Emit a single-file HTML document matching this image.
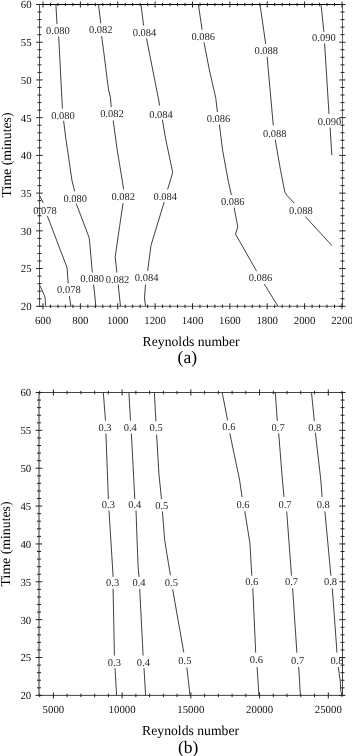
<!DOCTYPE html>
<html><head><meta charset="utf-8"><title>Contour plots</title>
<style>svg text{text-rendering:geometricPrecision;font-family:"Liberation Serif",serif}html,body{margin:0;padding:0;background:#fff;width:352px;height:756px;overflow:hidden}svg{display:block;will-change:transform}</style>
</head><body>
<svg width="352" height="756" viewBox="0 0 352 756">
<rect width="352" height="756" fill="#fff"/>
<g stroke="#222" stroke-width="1" fill="none">
<line x1="39.0" y1="4.5" x2="343.0" y2="4.5" stroke="#000"/>
<line x1="342.5" y1="4.5" x2="342.5" y2="306.3" stroke="#666"/>
<line x1="39.0" y1="306.3" x2="343.0" y2="306.3" stroke="#606060"/>
<line x1="39.5" y1="4.5" x2="39.5" y2="306.3" stroke="#5a5a5a"/>
<line x1="36.10" y1="306.30" x2="42.70" y2="306.30"/>
<line x1="339.30" y1="306.30" x2="345.50" y2="306.30"/>
<line x1="37.50" y1="298.75" x2="41.50" y2="298.75"/>
<line x1="340.50" y1="298.75" x2="344.50" y2="298.75"/>
<line x1="37.50" y1="291.21" x2="41.50" y2="291.21"/>
<line x1="340.50" y1="291.21" x2="344.50" y2="291.21"/>
<line x1="37.50" y1="283.67" x2="41.50" y2="283.67"/>
<line x1="340.50" y1="283.67" x2="344.50" y2="283.67"/>
<line x1="37.50" y1="276.12" x2="41.50" y2="276.12"/>
<line x1="340.50" y1="276.12" x2="344.50" y2="276.12"/>
<line x1="36.10" y1="268.57" x2="42.70" y2="268.57"/>
<line x1="339.30" y1="268.57" x2="345.50" y2="268.57"/>
<line x1="37.50" y1="261.03" x2="41.50" y2="261.03"/>
<line x1="340.50" y1="261.03" x2="344.50" y2="261.03"/>
<line x1="37.50" y1="253.48" x2="41.50" y2="253.48"/>
<line x1="340.50" y1="253.48" x2="344.50" y2="253.48"/>
<line x1="37.50" y1="245.94" x2="41.50" y2="245.94"/>
<line x1="340.50" y1="245.94" x2="344.50" y2="245.94"/>
<line x1="37.50" y1="238.40" x2="41.50" y2="238.40"/>
<line x1="340.50" y1="238.40" x2="344.50" y2="238.40"/>
<line x1="36.10" y1="230.85" x2="42.70" y2="230.85"/>
<line x1="339.30" y1="230.85" x2="345.50" y2="230.85"/>
<line x1="37.50" y1="223.31" x2="41.50" y2="223.31"/>
<line x1="340.50" y1="223.31" x2="344.50" y2="223.31"/>
<line x1="37.50" y1="215.76" x2="41.50" y2="215.76"/>
<line x1="340.50" y1="215.76" x2="344.50" y2="215.76"/>
<line x1="37.50" y1="208.22" x2="41.50" y2="208.22"/>
<line x1="340.50" y1="208.22" x2="344.50" y2="208.22"/>
<line x1="37.50" y1="200.67" x2="41.50" y2="200.67"/>
<line x1="340.50" y1="200.67" x2="344.50" y2="200.67"/>
<line x1="36.10" y1="193.12" x2="42.70" y2="193.12"/>
<line x1="339.30" y1="193.12" x2="345.50" y2="193.12"/>
<line x1="37.50" y1="185.58" x2="41.50" y2="185.58"/>
<line x1="340.50" y1="185.58" x2="344.50" y2="185.58"/>
<line x1="37.50" y1="178.04" x2="41.50" y2="178.04"/>
<line x1="340.50" y1="178.04" x2="344.50" y2="178.04"/>
<line x1="37.50" y1="170.49" x2="41.50" y2="170.49"/>
<line x1="340.50" y1="170.49" x2="344.50" y2="170.49"/>
<line x1="37.50" y1="162.94" x2="41.50" y2="162.94"/>
<line x1="340.50" y1="162.94" x2="344.50" y2="162.94"/>
<line x1="36.10" y1="155.40" x2="42.70" y2="155.40"/>
<line x1="339.30" y1="155.40" x2="345.50" y2="155.40"/>
<line x1="37.50" y1="147.85" x2="41.50" y2="147.85"/>
<line x1="340.50" y1="147.85" x2="344.50" y2="147.85"/>
<line x1="37.50" y1="140.31" x2="41.50" y2="140.31"/>
<line x1="340.50" y1="140.31" x2="344.50" y2="140.31"/>
<line x1="37.50" y1="132.77" x2="41.50" y2="132.77"/>
<line x1="340.50" y1="132.77" x2="344.50" y2="132.77"/>
<line x1="37.50" y1="125.22" x2="41.50" y2="125.22"/>
<line x1="340.50" y1="125.22" x2="344.50" y2="125.22"/>
<line x1="36.10" y1="117.67" x2="42.70" y2="117.67"/>
<line x1="339.30" y1="117.67" x2="345.50" y2="117.67"/>
<line x1="37.50" y1="110.13" x2="41.50" y2="110.13"/>
<line x1="340.50" y1="110.13" x2="344.50" y2="110.13"/>
<line x1="37.50" y1="102.59" x2="41.50" y2="102.59"/>
<line x1="340.50" y1="102.59" x2="344.50" y2="102.59"/>
<line x1="37.50" y1="95.04" x2="41.50" y2="95.04"/>
<line x1="340.50" y1="95.04" x2="344.50" y2="95.04"/>
<line x1="37.50" y1="87.50" x2="41.50" y2="87.50"/>
<line x1="340.50" y1="87.50" x2="344.50" y2="87.50"/>
<line x1="36.10" y1="79.95" x2="42.70" y2="79.95"/>
<line x1="339.30" y1="79.95" x2="345.50" y2="79.95"/>
<line x1="37.50" y1="72.41" x2="41.50" y2="72.41"/>
<line x1="340.50" y1="72.41" x2="344.50" y2="72.41"/>
<line x1="37.50" y1="64.86" x2="41.50" y2="64.86"/>
<line x1="340.50" y1="64.86" x2="344.50" y2="64.86"/>
<line x1="37.50" y1="57.31" x2="41.50" y2="57.31"/>
<line x1="340.50" y1="57.31" x2="344.50" y2="57.31"/>
<line x1="37.50" y1="49.77" x2="41.50" y2="49.77"/>
<line x1="340.50" y1="49.77" x2="344.50" y2="49.77"/>
<line x1="36.10" y1="42.23" x2="42.70" y2="42.23"/>
<line x1="339.30" y1="42.23" x2="345.50" y2="42.23"/>
<line x1="37.50" y1="34.68" x2="41.50" y2="34.68"/>
<line x1="340.50" y1="34.68" x2="344.50" y2="34.68"/>
<line x1="37.50" y1="27.14" x2="41.50" y2="27.14"/>
<line x1="340.50" y1="27.14" x2="344.50" y2="27.14"/>
<line x1="37.50" y1="19.59" x2="41.50" y2="19.59"/>
<line x1="340.50" y1="19.59" x2="344.50" y2="19.59"/>
<line x1="37.50" y1="12.04" x2="41.50" y2="12.04"/>
<line x1="340.50" y1="12.04" x2="344.50" y2="12.04"/>
<line x1="36.10" y1="4.50" x2="42.70" y2="4.50"/>
<line x1="339.30" y1="4.50" x2="345.50" y2="4.50"/>
<line x1="50.47" y1="2.80" x2="50.47" y2="6.20"/>
<line x1="50.47" y1="304.60" x2="50.47" y2="308.00"/>
<line x1="57.95" y1="2.80" x2="57.95" y2="6.20"/>
<line x1="57.95" y1="304.60" x2="57.95" y2="308.00"/>
<line x1="65.42" y1="2.80" x2="65.42" y2="6.20"/>
<line x1="65.42" y1="304.60" x2="65.42" y2="308.00"/>
<line x1="72.90" y1="2.80" x2="72.90" y2="6.20"/>
<line x1="72.90" y1="304.60" x2="72.90" y2="308.00"/>
<line x1="87.85" y1="2.80" x2="87.85" y2="6.20"/>
<line x1="87.85" y1="304.60" x2="87.85" y2="308.00"/>
<line x1="95.32" y1="2.80" x2="95.32" y2="6.20"/>
<line x1="95.32" y1="304.60" x2="95.32" y2="308.00"/>
<line x1="102.80" y1="2.80" x2="102.80" y2="6.20"/>
<line x1="102.80" y1="304.60" x2="102.80" y2="308.00"/>
<line x1="110.27" y1="2.80" x2="110.27" y2="6.20"/>
<line x1="110.27" y1="304.60" x2="110.27" y2="308.00"/>
<line x1="125.22" y1="2.80" x2="125.22" y2="6.20"/>
<line x1="125.22" y1="304.60" x2="125.22" y2="308.00"/>
<line x1="132.69" y1="2.80" x2="132.69" y2="6.20"/>
<line x1="132.69" y1="304.60" x2="132.69" y2="308.00"/>
<line x1="140.17" y1="2.80" x2="140.17" y2="6.20"/>
<line x1="140.17" y1="304.60" x2="140.17" y2="308.00"/>
<line x1="147.64" y1="2.80" x2="147.64" y2="6.20"/>
<line x1="147.64" y1="304.60" x2="147.64" y2="308.00"/>
<line x1="162.59" y1="2.80" x2="162.59" y2="6.20"/>
<line x1="162.59" y1="304.60" x2="162.59" y2="308.00"/>
<line x1="170.06" y1="2.80" x2="170.06" y2="6.20"/>
<line x1="170.06" y1="304.60" x2="170.06" y2="308.00"/>
<line x1="177.54" y1="2.80" x2="177.54" y2="6.20"/>
<line x1="177.54" y1="304.60" x2="177.54" y2="308.00"/>
<line x1="185.01" y1="2.80" x2="185.01" y2="6.20"/>
<line x1="185.01" y1="304.60" x2="185.01" y2="308.00"/>
<line x1="199.96" y1="2.80" x2="199.96" y2="6.20"/>
<line x1="199.96" y1="304.60" x2="199.96" y2="308.00"/>
<line x1="207.44" y1="2.80" x2="207.44" y2="6.20"/>
<line x1="207.44" y1="304.60" x2="207.44" y2="308.00"/>
<line x1="214.91" y1="2.80" x2="214.91" y2="6.20"/>
<line x1="214.91" y1="304.60" x2="214.91" y2="308.00"/>
<line x1="222.39" y1="2.80" x2="222.39" y2="6.20"/>
<line x1="222.39" y1="304.60" x2="222.39" y2="308.00"/>
<line x1="237.33" y1="2.80" x2="237.33" y2="6.20"/>
<line x1="237.33" y1="304.60" x2="237.33" y2="308.00"/>
<line x1="244.81" y1="2.80" x2="244.81" y2="6.20"/>
<line x1="244.81" y1="304.60" x2="244.81" y2="308.00"/>
<line x1="252.28" y1="2.80" x2="252.28" y2="6.20"/>
<line x1="252.28" y1="304.60" x2="252.28" y2="308.00"/>
<line x1="259.76" y1="2.80" x2="259.76" y2="6.20"/>
<line x1="259.76" y1="304.60" x2="259.76" y2="308.00"/>
<line x1="274.71" y1="2.80" x2="274.71" y2="6.20"/>
<line x1="274.71" y1="304.60" x2="274.71" y2="308.00"/>
<line x1="282.18" y1="2.80" x2="282.18" y2="6.20"/>
<line x1="282.18" y1="304.60" x2="282.18" y2="308.00"/>
<line x1="289.66" y1="2.80" x2="289.66" y2="6.20"/>
<line x1="289.66" y1="304.60" x2="289.66" y2="308.00"/>
<line x1="297.13" y1="2.80" x2="297.13" y2="6.20"/>
<line x1="297.13" y1="304.60" x2="297.13" y2="308.00"/>
<line x1="312.08" y1="2.80" x2="312.08" y2="6.20"/>
<line x1="312.08" y1="304.60" x2="312.08" y2="308.00"/>
<line x1="319.55" y1="2.80" x2="319.55" y2="6.20"/>
<line x1="319.55" y1="304.60" x2="319.55" y2="308.00"/>
<line x1="327.03" y1="2.80" x2="327.03" y2="6.20"/>
<line x1="327.03" y1="304.60" x2="327.03" y2="308.00"/>
<line x1="334.50" y1="2.80" x2="334.50" y2="6.20"/>
<line x1="334.50" y1="304.60" x2="334.50" y2="308.00"/>
<line x1="43.00" y1="1.50" x2="43.00" y2="7.50"/>
<line x1="43.00" y1="303.30" x2="43.00" y2="309.30"/>
<line x1="80.37" y1="1.50" x2="80.37" y2="7.50"/>
<line x1="80.37" y1="303.30" x2="80.37" y2="309.30"/>
<line x1="117.74" y1="1.50" x2="117.74" y2="7.50"/>
<line x1="117.74" y1="303.30" x2="117.74" y2="309.30"/>
<line x1="155.12" y1="1.50" x2="155.12" y2="7.50"/>
<line x1="155.12" y1="303.30" x2="155.12" y2="309.30"/>
<line x1="192.49" y1="1.50" x2="192.49" y2="7.50"/>
<line x1="192.49" y1="303.30" x2="192.49" y2="309.30"/>
<line x1="229.86" y1="1.50" x2="229.86" y2="7.50"/>
<line x1="229.86" y1="303.30" x2="229.86" y2="309.30"/>
<line x1="267.23" y1="1.50" x2="267.23" y2="7.50"/>
<line x1="267.23" y1="303.30" x2="267.23" y2="309.30"/>
<line x1="304.60" y1="1.50" x2="304.60" y2="7.50"/>
<line x1="304.60" y1="303.30" x2="304.60" y2="309.30"/>
<line x1="341.98" y1="1.50" x2="341.98" y2="7.50"/>
<line x1="341.98" y1="303.30" x2="341.98" y2="309.30"/>
<line x1="38.5" y1="392.5" x2="343.0" y2="392.5" stroke="#444"/>
<line x1="342.5" y1="392.5" x2="342.5" y2="695.4" stroke="#444"/>
<line x1="38.5" y1="695.4" x2="343.0" y2="695.4" stroke="#444"/>
<line x1="39.0" y1="392.5" x2="39.0" y2="695.4" stroke="#333"/>
<line x1="35.60" y1="695.40" x2="42.20" y2="695.40"/>
<line x1="339.30" y1="695.40" x2="345.50" y2="695.40"/>
<line x1="37.00" y1="687.83" x2="41.00" y2="687.83"/>
<line x1="340.50" y1="687.83" x2="344.50" y2="687.83"/>
<line x1="37.00" y1="680.25" x2="41.00" y2="680.25"/>
<line x1="340.50" y1="680.25" x2="344.50" y2="680.25"/>
<line x1="37.00" y1="672.68" x2="41.00" y2="672.68"/>
<line x1="340.50" y1="672.68" x2="344.50" y2="672.68"/>
<line x1="37.00" y1="665.11" x2="41.00" y2="665.11"/>
<line x1="340.50" y1="665.11" x2="344.50" y2="665.11"/>
<line x1="35.60" y1="657.54" x2="42.20" y2="657.54"/>
<line x1="339.30" y1="657.54" x2="345.50" y2="657.54"/>
<line x1="37.00" y1="649.96" x2="41.00" y2="649.96"/>
<line x1="340.50" y1="649.96" x2="344.50" y2="649.96"/>
<line x1="37.00" y1="642.39" x2="41.00" y2="642.39"/>
<line x1="340.50" y1="642.39" x2="344.50" y2="642.39"/>
<line x1="37.00" y1="634.82" x2="41.00" y2="634.82"/>
<line x1="340.50" y1="634.82" x2="344.50" y2="634.82"/>
<line x1="37.00" y1="627.25" x2="41.00" y2="627.25"/>
<line x1="340.50" y1="627.25" x2="344.50" y2="627.25"/>
<line x1="35.60" y1="619.67" x2="42.20" y2="619.67"/>
<line x1="339.30" y1="619.67" x2="345.50" y2="619.67"/>
<line x1="37.00" y1="612.10" x2="41.00" y2="612.10"/>
<line x1="340.50" y1="612.10" x2="344.50" y2="612.10"/>
<line x1="37.00" y1="604.53" x2="41.00" y2="604.53"/>
<line x1="340.50" y1="604.53" x2="344.50" y2="604.53"/>
<line x1="37.00" y1="596.96" x2="41.00" y2="596.96"/>
<line x1="340.50" y1="596.96" x2="344.50" y2="596.96"/>
<line x1="37.00" y1="589.38" x2="41.00" y2="589.38"/>
<line x1="340.50" y1="589.38" x2="344.50" y2="589.38"/>
<line x1="35.60" y1="581.81" x2="42.20" y2="581.81"/>
<line x1="339.30" y1="581.81" x2="345.50" y2="581.81"/>
<line x1="37.00" y1="574.24" x2="41.00" y2="574.24"/>
<line x1="340.50" y1="574.24" x2="344.50" y2="574.24"/>
<line x1="37.00" y1="566.67" x2="41.00" y2="566.67"/>
<line x1="340.50" y1="566.67" x2="344.50" y2="566.67"/>
<line x1="37.00" y1="559.10" x2="41.00" y2="559.10"/>
<line x1="340.50" y1="559.10" x2="344.50" y2="559.10"/>
<line x1="37.00" y1="551.52" x2="41.00" y2="551.52"/>
<line x1="340.50" y1="551.52" x2="344.50" y2="551.52"/>
<line x1="35.60" y1="543.95" x2="42.20" y2="543.95"/>
<line x1="339.30" y1="543.95" x2="345.50" y2="543.95"/>
<line x1="37.00" y1="536.38" x2="41.00" y2="536.38"/>
<line x1="340.50" y1="536.38" x2="344.50" y2="536.38"/>
<line x1="37.00" y1="528.81" x2="41.00" y2="528.81"/>
<line x1="340.50" y1="528.81" x2="344.50" y2="528.81"/>
<line x1="37.00" y1="521.23" x2="41.00" y2="521.23"/>
<line x1="340.50" y1="521.23" x2="344.50" y2="521.23"/>
<line x1="37.00" y1="513.66" x2="41.00" y2="513.66"/>
<line x1="340.50" y1="513.66" x2="344.50" y2="513.66"/>
<line x1="35.60" y1="506.09" x2="42.20" y2="506.09"/>
<line x1="339.30" y1="506.09" x2="345.50" y2="506.09"/>
<line x1="37.00" y1="498.51" x2="41.00" y2="498.51"/>
<line x1="340.50" y1="498.51" x2="344.50" y2="498.51"/>
<line x1="37.00" y1="490.94" x2="41.00" y2="490.94"/>
<line x1="340.50" y1="490.94" x2="344.50" y2="490.94"/>
<line x1="37.00" y1="483.37" x2="41.00" y2="483.37"/>
<line x1="340.50" y1="483.37" x2="344.50" y2="483.37"/>
<line x1="37.00" y1="475.80" x2="41.00" y2="475.80"/>
<line x1="340.50" y1="475.80" x2="344.50" y2="475.80"/>
<line x1="35.60" y1="468.23" x2="42.20" y2="468.23"/>
<line x1="339.30" y1="468.23" x2="345.50" y2="468.23"/>
<line x1="37.00" y1="460.65" x2="41.00" y2="460.65"/>
<line x1="340.50" y1="460.65" x2="344.50" y2="460.65"/>
<line x1="37.00" y1="453.08" x2="41.00" y2="453.08"/>
<line x1="340.50" y1="453.08" x2="344.50" y2="453.08"/>
<line x1="37.00" y1="445.51" x2="41.00" y2="445.51"/>
<line x1="340.50" y1="445.51" x2="344.50" y2="445.51"/>
<line x1="37.00" y1="437.94" x2="41.00" y2="437.94"/>
<line x1="340.50" y1="437.94" x2="344.50" y2="437.94"/>
<line x1="35.60" y1="430.36" x2="42.20" y2="430.36"/>
<line x1="339.30" y1="430.36" x2="345.50" y2="430.36"/>
<line x1="37.00" y1="422.79" x2="41.00" y2="422.79"/>
<line x1="340.50" y1="422.79" x2="344.50" y2="422.79"/>
<line x1="37.00" y1="415.22" x2="41.00" y2="415.22"/>
<line x1="340.50" y1="415.22" x2="344.50" y2="415.22"/>
<line x1="37.00" y1="407.64" x2="41.00" y2="407.64"/>
<line x1="340.50" y1="407.64" x2="344.50" y2="407.64"/>
<line x1="37.00" y1="400.07" x2="41.00" y2="400.07"/>
<line x1="340.50" y1="400.07" x2="344.50" y2="400.07"/>
<line x1="35.60" y1="392.50" x2="42.20" y2="392.50"/>
<line x1="339.30" y1="392.50" x2="345.50" y2="392.50"/>
<line x1="39.66" y1="390.80" x2="39.66" y2="394.20"/>
<line x1="39.66" y1="693.70" x2="39.66" y2="697.10"/>
<line x1="67.14" y1="390.80" x2="67.14" y2="394.20"/>
<line x1="67.14" y1="693.70" x2="67.14" y2="697.10"/>
<line x1="80.89" y1="390.80" x2="80.89" y2="394.20"/>
<line x1="80.89" y1="693.70" x2="80.89" y2="697.10"/>
<line x1="94.63" y1="390.80" x2="94.63" y2="394.20"/>
<line x1="94.63" y1="693.70" x2="94.63" y2="697.10"/>
<line x1="108.38" y1="390.80" x2="108.38" y2="394.20"/>
<line x1="108.38" y1="693.70" x2="108.38" y2="697.10"/>
<line x1="135.87" y1="390.80" x2="135.87" y2="394.20"/>
<line x1="135.87" y1="693.70" x2="135.87" y2="697.10"/>
<line x1="149.62" y1="390.80" x2="149.62" y2="394.20"/>
<line x1="149.62" y1="693.70" x2="149.62" y2="697.10"/>
<line x1="163.36" y1="390.80" x2="163.36" y2="394.20"/>
<line x1="163.36" y1="693.70" x2="163.36" y2="697.10"/>
<line x1="177.10" y1="390.80" x2="177.10" y2="394.20"/>
<line x1="177.10" y1="693.70" x2="177.10" y2="697.10"/>
<line x1="204.59" y1="390.80" x2="204.59" y2="394.20"/>
<line x1="204.59" y1="693.70" x2="204.59" y2="697.10"/>
<line x1="218.34" y1="390.80" x2="218.34" y2="394.20"/>
<line x1="218.34" y1="693.70" x2="218.34" y2="697.10"/>
<line x1="232.09" y1="390.80" x2="232.09" y2="394.20"/>
<line x1="232.09" y1="693.70" x2="232.09" y2="697.10"/>
<line x1="245.83" y1="390.80" x2="245.83" y2="394.20"/>
<line x1="245.83" y1="693.70" x2="245.83" y2="697.10"/>
<line x1="273.32" y1="390.80" x2="273.32" y2="394.20"/>
<line x1="273.32" y1="693.70" x2="273.32" y2="697.10"/>
<line x1="287.06" y1="390.80" x2="287.06" y2="394.20"/>
<line x1="287.06" y1="693.70" x2="287.06" y2="697.10"/>
<line x1="300.81" y1="390.80" x2="300.81" y2="394.20"/>
<line x1="300.81" y1="693.70" x2="300.81" y2="697.10"/>
<line x1="314.56" y1="390.80" x2="314.56" y2="394.20"/>
<line x1="314.56" y1="693.70" x2="314.56" y2="697.10"/>
<line x1="342.04" y1="390.80" x2="342.04" y2="394.20"/>
<line x1="342.04" y1="693.70" x2="342.04" y2="697.10"/>
<line x1="53.40" y1="389.50" x2="53.40" y2="395.50"/>
<line x1="53.40" y1="692.40" x2="53.40" y2="698.40"/>
<line x1="122.12" y1="389.50" x2="122.12" y2="395.50"/>
<line x1="122.12" y1="692.40" x2="122.12" y2="698.40"/>
<line x1="190.85" y1="389.50" x2="190.85" y2="395.50"/>
<line x1="190.85" y1="692.40" x2="190.85" y2="698.40"/>
<line x1="259.57" y1="389.50" x2="259.57" y2="395.50"/>
<line x1="259.57" y1="692.40" x2="259.57" y2="698.40"/>
<line x1="328.30" y1="389.50" x2="328.30" y2="395.50"/>
<line x1="328.30" y1="692.40" x2="328.30" y2="698.40"/>
</g>
<g stroke="#2a2a2a" stroke-width="0.9" fill="none">
<polyline points="55.9,4.5 57.0,24.0"/>
<polyline points="58.7,36.4 62.4,108.5"/>
<polyline points="63.6,120.7 65.8,138.3 71.9,180.0 74.7,191.4"/>
<polyline points="76.3,203.8 89.1,237.5 89.8,243.5 92.3,272.6"/>
<polyline points="93.6,284.5 95.9,306.3"/>
<polyline points="98.5,4.5 100.8,23.3"/>
<polyline points="101.6,36.0 103.9,52.9 107.2,79.4 108.6,90.0 110.5,97.9 111.2,107.2"/>
<polyline points="113.2,120.4 117.1,149.5 122.2,180.0 123.6,189.5"/>
<polyline points="123.1,203.1 119.6,226.3 115.2,256.7 116.9,272.6"/>
<polyline points="118.2,284.5 120.5,306.3"/>
<polyline points="141.0,4.5 143.6,25.6"/>
<polyline points="146.5,38.4 158.7,100.0 159.6,105.6"/>
<polyline points="162.4,119.8 165.3,137.0 172.7,172.5 167.6,189.5"/>
<polyline points="164.2,202.0 151.0,245.3 147.7,270.9"/>
<polyline points="145.5,284.5 144.5,298.0 145.5,306.3"/>
<polyline points="198.4,4.5 202.1,29.8"/>
<polyline points="204.0,42.3 209.2,69.1 215.8,98.2 217.4,112.1"/>
<polyline points="219.4,124.6 222.6,150.4 228.5,182.2 231.4,195.0"/>
<polyline points="234.1,207.6 237.8,226.9 235.5,234.0 256.6,271.2"/>
<polyline points="264.3,284.1 278.0,306.3"/>
<polyline points="260.0,4.5 265.7,44.0"/>
<polyline points="267.1,56.8 273.3,125.5"/>
<polyline points="275.2,139.7 280.5,170.1 284.9,192.2 287.1,195.6 294.4,203.3"/>
<polyline points="305.3,216.6 331.9,245.5"/>
<polyline points="321.0,4.5 323.9,31.8"/>
<polyline points="324.6,43.5 329.0,114.1"/>
<polyline points="330.1,127.5 331.8,155.3"/>
<polyline points="39.5,195.5 43.3,203.0"/>
<polyline points="47.3,215.8 67.0,267.5 68.2,283.4"/>
<polyline points="69.3,295.9 70.9,306.3"/>
<polyline points="39.8,285.5 43.9,294.4 45.1,297.6 45.5,305.5"/>
<polyline points="103.3,392.5 105.5,420.6"/>
<polyline points="105.9,433.6 108.4,499.1"/>
<polyline points="109.0,510.5 112.4,565.0 113.1,576.9"/>
<polyline points="113.1,588.9 114.4,655.6"/>
<polyline points="115.0,668.1 116.6,695.4"/>
<polyline points="128.9,392.5 130.5,420.6"/>
<polyline points="131.4,433.6 134.8,499.1"/>
<polyline points="136.0,510.5 138.0,565.0 139.0,576.9"/>
<polyline points="139.7,588.9 143.1,655.6"/>
<polyline points="144.0,668.1 145.6,695.4"/>
<polyline points="154.4,392.5 155.9,421.4"/>
<polyline points="156.6,434.5 159.0,475.0 161.5,499.1"/>
<polyline points="162.4,511.4 164.7,540.3 170.4,575.2"/>
<polyline points="172.7,589.5 183.8,652.5"/>
<polyline points="186.9,667.5 190.0,695.4"/>
<polyline points="222.2,392.5 227.6,420.4"/>
<polyline points="229.8,433.3 239.6,480.0 242.0,497.0"/>
<polyline points="244.8,511.4 249.9,543.0 251.8,575.7"/>
<polyline points="252.8,588.3 255.7,652.7"/>
<polyline points="257.1,667.0 258.9,695.4"/>
<polyline points="275.3,392.5 277.3,421.0"/>
<polyline points="278.7,433.3 282.4,480.0 284.0,497.0"/>
<polyline points="286.7,511.4 291.5,575.7"/>
<polyline points="292.6,588.3 296.9,652.7"/>
<polyline points="298.7,667.0 300.4,695.4"/>
<polyline points="311.5,392.5 314.3,421.1"/>
<polyline points="315.4,432.8 320.8,480.0 322.1,497.0"/>
<polyline points="324.9,511.4 330.9,575.7"/>
<polyline points="332.3,588.3 337.0,652.7"/>
<polyline points="338.3,667.0 340.3,681.3 340.8,691.6 342.3,695.2"/>
</g>
<g font-family="&quot;Liberation Serif&quot;, serif" font-size="10.5" fill="#2a2a2a">
<text x="57.9" y="34.2" text-anchor="middle">0.080</text>
<text x="63.0" y="118.6" text-anchor="middle">0.080</text>
<text x="75.3" y="201.5" text-anchor="middle">0.080</text>
<text x="92.1" y="282.1" text-anchor="middle">0.080</text>
<text x="100.8" y="33.4" text-anchor="middle">0.082</text>
<text x="112.0" y="117.4" text-anchor="middle">0.082</text>
<text x="123.3" y="200.1" text-anchor="middle">0.082</text>
<text x="117.5" y="282.5" text-anchor="middle">0.082</text>
<text x="144.5" y="35.7" text-anchor="middle">0.084</text>
<text x="161.0" y="118.3" text-anchor="middle">0.084</text>
<text x="165.3" y="199.7" text-anchor="middle">0.084</text>
<text x="146.6" y="281.3" text-anchor="middle">0.084</text>
<text x="203.3" y="40.0" text-anchor="middle">0.086</text>
<text x="218.5" y="122.3" text-anchor="middle">0.086</text>
<text x="232.7" y="204.9" text-anchor="middle">0.086</text>
<text x="260.5" y="281.3" text-anchor="middle">0.086</text>
<text x="266.3" y="54.2" text-anchor="middle">0.088</text>
<text x="274.7" y="136.8" text-anchor="middle">0.088</text>
<text x="300.9" y="213.8" text-anchor="middle">0.088</text>
<text x="323.9" y="41.0" text-anchor="middle">0.090</text>
<text x="329.5" y="124.9" text-anchor="middle">0.090</text>
<text x="45.0" y="213.6" text-anchor="middle">0.078</text>
<text x="68.9" y="293.3" text-anchor="middle">0.078</text>
<text x="105.0" y="430.6" text-anchor="middle">0.3</text>
<text x="108.4" y="508.4" text-anchor="middle">0.3</text>
<text x="112.6" y="586.3" text-anchor="middle">0.3</text>
<text x="114.4" y="665.5" text-anchor="middle">0.3</text>
<text x="130.3" y="430.6" text-anchor="middle">0.4</text>
<text x="134.8" y="508.4" text-anchor="middle">0.4</text>
<text x="139.0" y="586.3" text-anchor="middle">0.4</text>
<text x="143.4" y="665.5" text-anchor="middle">0.4</text>
<text x="156.1" y="431.1" text-anchor="middle">0.5</text>
<text x="161.8" y="509.2" text-anchor="middle">0.5</text>
<text x="171.4" y="586.3" text-anchor="middle">0.5</text>
<text x="184.9" y="663.9" text-anchor="middle">0.5</text>
<text x="228.9" y="430.4" text-anchor="middle">0.6</text>
<text x="243.0" y="508.1" text-anchor="middle">0.6</text>
<text x="251.8" y="585.4" text-anchor="middle">0.6</text>
<text x="256.4" y="663.4" text-anchor="middle">0.6</text>
<text x="278.1" y="430.6" text-anchor="middle">0.7</text>
<text x="285.0" y="508.1" text-anchor="middle">0.7</text>
<text x="291.5" y="585.4" text-anchor="middle">0.7</text>
<text x="297.6" y="664.2" text-anchor="middle">0.7</text>
<text x="314.7" y="430.5" text-anchor="middle">0.8</text>
<text x="323.2" y="508.1" text-anchor="middle">0.8</text>
<text x="330.5" y="585.4" text-anchor="middle">0.8</text>
<text x="337.0" y="664.2" text-anchor="middle">0.8</text>
</g>
<g font-family="&quot;Liberation Serif&quot;, serif" font-size="10.8" fill="#111">
<text x="43.0" y="323.5" text-anchor="middle">600</text>
<text x="80.4" y="323.5" text-anchor="middle">800</text>
<text x="117.7" y="323.5" text-anchor="middle">1000</text>
<text x="155.1" y="323.5" text-anchor="middle">1200</text>
<text x="192.5" y="323.5" text-anchor="middle">1400</text>
<text x="229.9" y="323.5" text-anchor="middle">1600</text>
<text x="267.2" y="323.5" text-anchor="middle">1800</text>
<text x="304.6" y="323.5" text-anchor="middle">2000</text>
<text x="342.0" y="323.5" text-anchor="middle">2200</text>
<text x="31.6" y="310.1" text-anchor="end">20</text>
<text x="31.6" y="272.4" text-anchor="end">25</text>
<text x="31.6" y="234.7" text-anchor="end">30</text>
<text x="31.6" y="196.9" text-anchor="end">35</text>
<text x="31.6" y="159.2" text-anchor="end">40</text>
<text x="31.6" y="121.5" text-anchor="end">45</text>
<text x="31.6" y="83.8" text-anchor="end">50</text>
<text x="31.6" y="46.0" text-anchor="end">55</text>
<text x="31.6" y="8.3" text-anchor="end">60</text>
<text x="53.4" y="713.3" text-anchor="middle">5000</text>
<text x="122.1" y="713.3" text-anchor="middle">10000</text>
<text x="190.8" y="713.3" text-anchor="middle">15000</text>
<text x="259.6" y="713.3" text-anchor="middle">20000</text>
<text x="328.3" y="713.3" text-anchor="middle">25000</text>
<text x="31.2" y="699.2" text-anchor="end">20</text>
<text x="31.2" y="661.3" text-anchor="end">25</text>
<text x="31.2" y="623.5" text-anchor="end">30</text>
<text x="31.2" y="585.6" text-anchor="end">35</text>
<text x="31.2" y="547.8" text-anchor="end">40</text>
<text x="31.2" y="509.9" text-anchor="end">45</text>
<text x="31.2" y="472.0" text-anchor="end">50</text>
<text x="31.2" y="434.2" text-anchor="end">55</text>
<text x="31.2" y="396.3" text-anchor="end">60</text>
</g>
<g font-family="&quot;Liberation Serif&quot;, serif" fill="#000">
<text x="191.1" y="345.6" font-size="13.7" text-anchor="middle">Reynolds number</text>
<text x="187.3" y="363.0" font-size="17.5" text-anchor="middle">(a)</text>
<text transform="translate(10.8,154.9) rotate(-90)" font-size="13.8" text-anchor="middle">Time (minutes)</text>
<text x="190.6" y="734.6" font-size="13.7" text-anchor="middle">Reynolds number</text>
<text x="188.1" y="753.4" font-size="17.5" text-anchor="middle">(b)</text>
<text transform="translate(10.1,543.9) rotate(-90)" font-size="13.8" text-anchor="middle">Time (minutes)</text>
</g>
</svg>
</body></html>
